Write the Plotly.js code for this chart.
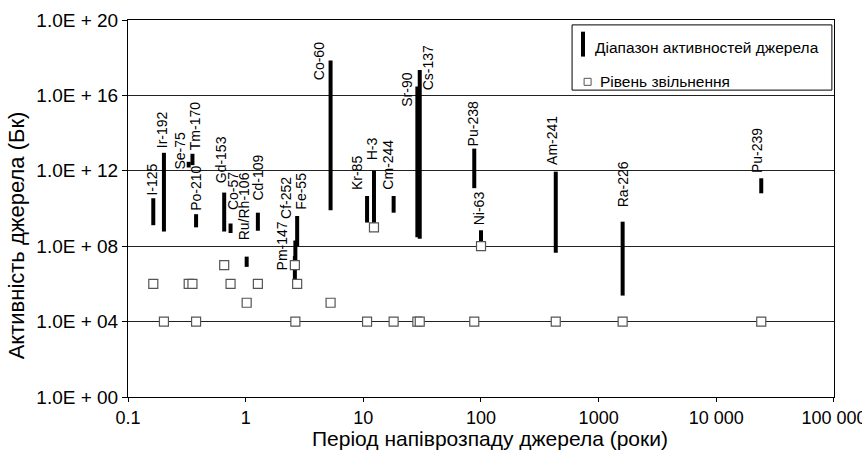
<!DOCTYPE html>
<html>
<head>
<meta charset="utf-8">
<script src="https://cdn.plot.ly/plotly-3.0.1.min.js"></script>
<style>html,body{margin:0;padding:0;background:#fff;}#chart{width:862px;height:450px;}</style>
</head>
<body>
<div id="chart"></div>
<script>
// ---- data ----
const nuclides = ["I-125","Ir-192","Se-75","Tm-170","Po-210","Gd-153","Co-57","Ru/Rh-106","Cd-109","Pm-147","Cf-252","Fe-55","Co-60","Kr-85","H-3","Cm-244","Sr-90","Cs-137","Pu-238","Ni-63","Am-241","Ra-226","Pu-239"];
const halfLife = [0.164,0.202,0.328,0.353,0.379,0.657,0.744,1.02,1.27,2.62,2.645,2.74,5.27,10.76,12.32,18.1,28.8,30.17,87.7,100.1,432.2,1600,24110];
const activityMin = [1.3e9,6e8,1.5e12,2e12,1e9,6e8,5e8,8e6,6.6e8,1.6e6,1e7,1e8,8e9,1.8e9,1.6e9,6e9,3e8,2.5e8,1.2e11,1.1e8,4.5e7,2.4e5,6.4e10];
const activityMax = [3.5e10,9e12,3e12,8e12,5e9,7e10,1.6e9,2.8e7,6e9,3e7,2e8,4e9,7e17,4.6e10,1e12,4.6e10,3e16,2.2e17,1.5e13,7e8,9e11,2e9,4e11];
const clearance = [1e6,1e4,1e6,1e6,1e4,1e7,1e6,1e5,1e6,1e7,1e4,1e6,1e5,1e4,1e9,1e4,1e4,1e4,1e4,1e8,1e4,1e4,1e4];
const yTickVals = [1,1e4,1e8,1e12,1e16,1e20];
const yTickText = ["1.0E + 00","1.0E + 04","1.0E + 08","1.0E + 12","1.0E + 16","1.0E + 20"];
const xTickVals = [0.1,1,10,100,1000,10000,100000];
const xTickText = ["0.1","1","10","100","1000","10 000","100 000"];
const xTitle = "Період напіврозпаду джерела (роки)";
const yTitle = "Активність джерела (Бк)";
const legendRange = "Діапазон активностей джерела";
const legendClear = "Рівень звільнення";

// ---- label offsets (styling, pixels) ----
const labelShift = {
  "I-125":[-1,1],"Ir-192":[-2,3],"Se-75":[-9,-10],"Tm-170":[2,2],"Po-210":[0,1],
  "Gd-153":[-3,7],"Co-57":[2,11],"Ru/Rh-106":[-3,14],"Cd-109":[0,10],
  "Pm-147":[-13,-16],"Cf-252":[-10,20],"Fe-55":[3,4],"Co-60":[-12,-22],
  "Kr-85":[-10,4],"H-3":[-2,9],"Cm-244":[-6,4],"Sr-90":[-10,-22],"Cs-137":[8,-22],
  "Pu-238":[-1,0],"Ni-63":[-2,3],"Am-241":[-4,5],"Ra-226":[0,12],"Pu-239":[-4,3]
};

const FONT = "Liberation Sans, Arial, Helvetica, sans-serif";

// bars as one trace with gaps
const bx = [], by = [];
halfLife.forEach((h,i)=>{ bx.push(h,h,null); by.push(activityMin[i],activityMax[i],null); });

const traces = [
  {x:bx, y:by, mode:"lines", line:{color:"#000", width:4}, connectgaps:false, hoverinfo:"skip", showlegend:false},
  {x:halfLife, y:clearance, mode:"markers", marker:{symbol:"square", size:9, color:"#fff", line:{color:"#555", width:1.2}}, showlegend:false}
];

const annotations = nuclides.map((n,i)=>({
  x:Math.log10(halfLife[i]), y:Math.log10(activityMax[i]), xref:"x", yref:"y",
  text:n, showarrow:false, textangle:-90, xanchor:"center", yanchor:"bottom",
  xshift:labelShift[n][0], yshift:labelShift[n][1],
  font:{family:FONT, size:14, color:"#000"}
}));

// axis titles
annotations.push(
  {xref:"paper", yref:"paper", x:0.513, y:-0.109, text:xTitle, showarrow:false, xanchor:"center", yanchor:"middle", font:{family:FONT, size:21, color:"#000"}},
  {xref:"paper", yref:"paper", x:-0.158, y:0.43, text:yTitle, showarrow:false, textangle:-90, xanchor:"center", yanchor:"middle", font:{family:FONT, size:22, color:"#000"}}
);
// manual legend
annotations.push(
  {xref:"paper", yref:"paper", x:0.659, y:0.928, text:legendRange, showarrow:false, xanchor:"left", yanchor:"middle", font:{family:FONT, size:15.5, color:"#000"}},
  {xref:"paper", yref:"paper", x:0.666, y:0.836, text:legendClear, showarrow:false, xanchor:"left", yanchor:"middle", font:{family:FONT, size:15.5, color:"#000"}}
);
const shapes = [
  {type:"rect", xref:"paper", yref:"paper", x0:0.629, x1:0.997, y0:0.814, y1:0.987, line:{color:"#000", width:1}, fillcolor:"#fff", layer:"above"},
  {type:"line", xref:"paper", yref:"paper", x0:0.6445, x1:0.6445, y0:0.903, y1:0.969, line:{color:"#000", width:4}, layer:"above"},
  {type:"rect", xref:"paper", yref:"paper", xsizemode:"pixel", ysizemode:"pixel", xanchor:0.651, yanchor:0.836, x0:-3.5, x1:3.5, y0:-3.5, y1:3.5, line:{color:"#555", width:1}, fillcolor:"#fff", layer:"above"}
];

const layout = {
  width:862, height:450,
  margin:{l:128, r:28, t:20, b:53},
  paper_bgcolor:"#fff", plot_bgcolor:"#fff",
  font:{family:FONT, color:"#000"},
  showlegend:false,
  xaxis:{type:"log", range:[-1,5.0005], tickmode:"array", tickvals:xTickVals, ticktext:xTickText,
    showgrid:false, zeroline:false, showline:true, mirror:true, linecolor:"#000", linewidth:1,
    ticks:"outside", ticklen:4, tickcolor:"#000", ticklabeloverflow:"allow",
    tickfont:{family:FONT, size:18, color:"#000"}},
  yaxis:{type:"log", range:[0,20], tickmode:"array", tickvals:yTickVals, ticktext:yTickText,
    showgrid:true, gridcolor:"#222", gridwidth:1, zeroline:false, showline:true, mirror:true, linecolor:"#000", linewidth:1,
    ticks:"outside", ticklen:5, tickcolor:"#000", tickfont:{family:FONT, size:19, color:"#000"}},
  annotations:annotations,
  shapes:shapes
};

Plotly.newPlot("chart", traces, layout, {displayModeBar:false, staticPlot:true});
</script>
</body>
</html>
